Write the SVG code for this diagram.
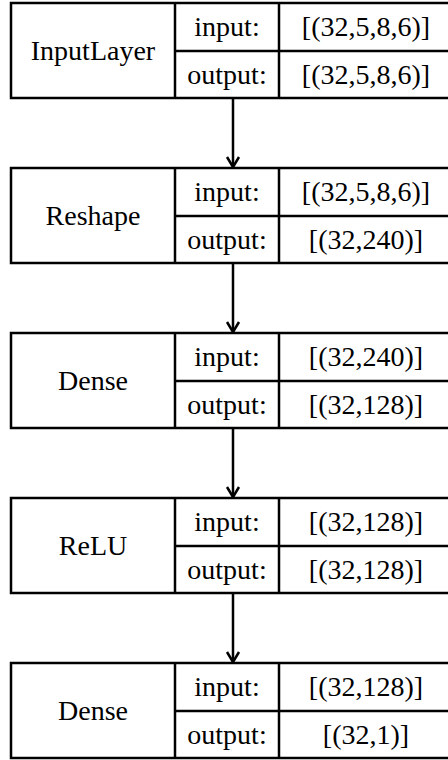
<svg xmlns="http://www.w3.org/2000/svg" width="448" height="760" viewBox="0 0 448 760">
<style>
.box{fill:#fff;stroke:#000;stroke-width:2.5}
.ln{stroke:#000;stroke-width:2.5;fill:none}
.t{font-family:'Liberation Serif','Times New Roman',Tinos,'Nimbus Roman','DejaVu Serif',serif;font-size:28px;fill:#000;text-anchor:middle}
</style>
<defs>
<marker id="ah" markerUnits="userSpaceOnUse" markerWidth="16" markerHeight="18" viewBox="0 0 16 18" refX="12" refY="9" orient="auto">
<path d="M2,3 L12,9 L2,15" fill="none" stroke="#000" stroke-width="2.5"/>
</marker>
</defs>
<g id="connectors">
<line class="ln" x1="233" y1="99" x2="233" y2="167" marker-end="url(#ah)"/>
<line class="ln" x1="233" y1="264" x2="233" y2="332" marker-end="url(#ah)"/>
<line class="ln" x1="233" y1="429" x2="233" y2="497" marker-end="url(#ah)"/>
<line class="ln" x1="233" y1="594" x2="233" y2="662" marker-end="url(#ah)"/>
</g>
<g id="node-inputlayer" transform="translate(0,3)">
<rect class="box" x="11" y="0" width="444" height="95"/>
<line class="ln" x1="175" y1="0" x2="175" y2="95"/>
<line class="ln" x1="279" y1="0" x2="279" y2="95"/>
<line class="ln" x1="175" y1="48" x2="455" y2="48"/>
<text class="t" x="93" y="57">InputLayer</text>
<text class="t" x="227" y="33">input:</text>
<text class="t" x="227" y="81">output:</text>
<text class="t" x="366" y="33">[(32,5,8,6)]</text>
<text class="t" x="366" y="81">[(32,5,8,6)]</text>
</g>
<g id="node-reshape" transform="translate(0,168)">
<rect class="box" x="11" y="0" width="444" height="95"/>
<line class="ln" x1="175" y1="0" x2="175" y2="95"/>
<line class="ln" x1="279" y1="0" x2="279" y2="95"/>
<line class="ln" x1="175" y1="48" x2="455" y2="48"/>
<text class="t" x="93" y="57">Reshape</text>
<text class="t" x="227" y="33">input:</text>
<text class="t" x="227" y="81">output:</text>
<text class="t" x="366" y="33">[(32,5,8,6)]</text>
<text class="t" x="366" y="81">[(32,240)]</text>
</g>
<g id="node-dense1" transform="translate(0,333)">
<rect class="box" x="11" y="0" width="444" height="95"/>
<line class="ln" x1="175" y1="0" x2="175" y2="95"/>
<line class="ln" x1="279" y1="0" x2="279" y2="95"/>
<line class="ln" x1="175" y1="48" x2="455" y2="48"/>
<text class="t" x="93" y="57">Dense</text>
<text class="t" x="227" y="33">input:</text>
<text class="t" x="227" y="81">output:</text>
<text class="t" x="366" y="33">[(32,240)]</text>
<text class="t" x="366" y="81">[(32,128)]</text>
</g>
<g id="node-relu" transform="translate(0,498)">
<rect class="box" x="11" y="0" width="444" height="95"/>
<line class="ln" x1="175" y1="0" x2="175" y2="95"/>
<line class="ln" x1="279" y1="0" x2="279" y2="95"/>
<line class="ln" x1="175" y1="48" x2="455" y2="48"/>
<text class="t" x="93" y="57">ReLU</text>
<text class="t" x="227" y="33">input:</text>
<text class="t" x="227" y="81">output:</text>
<text class="t" x="366" y="33">[(32,128)]</text>
<text class="t" x="366" y="81">[(32,128)]</text>
</g>
<g id="node-dense2" transform="translate(0,663)">
<rect class="box" x="11" y="0" width="444" height="95"/>
<line class="ln" x1="175" y1="0" x2="175" y2="95"/>
<line class="ln" x1="279" y1="0" x2="279" y2="95"/>
<line class="ln" x1="175" y1="48" x2="455" y2="48"/>
<text class="t" x="93" y="57">Dense</text>
<text class="t" x="227" y="33">input:</text>
<text class="t" x="227" y="81">output:</text>
<text class="t" x="366" y="33">[(32,128)]</text>
<text class="t" x="366" y="81">[(32,1)]</text>
</g>
</svg>
